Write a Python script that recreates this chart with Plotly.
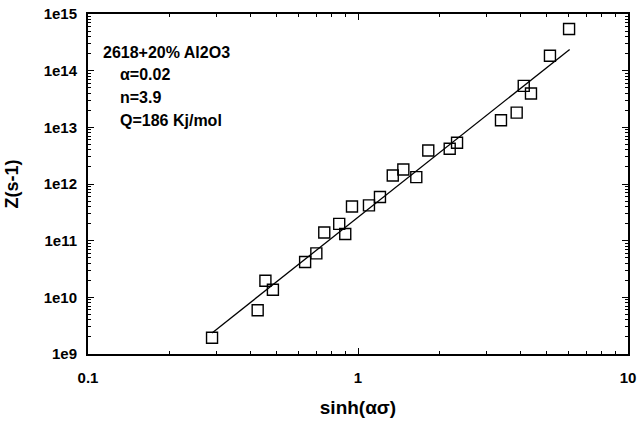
import plotly.graph_objects as go

sinh_x = [0.288, 0.425, 0.454, 0.484, 0.637, 0.701, 0.75, 0.852, 0.897, 0.950,
          1.098, 1.206, 1.345, 1.472, 1.644, 1.821, 2.186, 2.327, 3.385, 3.87,
          4.11, 4.372, 5.14, 6.05]
z_vals = [1.94e9, 5.9e9, 1.96e10, 1.36e10, 4.2e10, 5.96e10, 1.39e11, 1.98e11, 1.31e11, 4.0e11,
          4.2e11, 5.9e11, 1.41e12, 1.8e12, 1.32e12, 3.9e12, 4.2e12, 5.36e12, 1.33e13, 1.82e13,
          5.38e13, 3.95e13, 1.83e14, 5.43e14]
fit_x = [0.288, 6.08]
fit_y = [2.35e9, 2.37e14]

x_tickvals = [0.1, 1, 10]
x_ticktext = ["0.1", "1", "10"]
y_tickvals = [1e9, 1e10, 1e11, 1e12, 1e13, 1e14, 1e15]
y_ticktext = ["1e9", "1e10", "1e11", "1e12", "1e13", "1e14", "1e15"]

notes = ["2618+20% Al2O3", "α=0.02", "n=3.9", "Q=186 Kj/mol"]

FONT = "Arial, Liberation Sans, sans-serif"

x_minor = [m * 10.0 ** e for e in (-1, 0) for m in range(2, 10)]
y_minor = [m * 10.0 ** e for e in range(9, 15) for m in range(2, 10)]

fig = go.Figure()
fig.add_trace(go.Scatter(x=fit_x, y=fit_y, mode="lines",
                         line=dict(color="black", width=1.3), showlegend=False))
fig.add_trace(go.Scatter(x=sinh_x, y=z_vals, mode="markers",
                         marker=dict(symbol="square-open", size=11, color="black",
                                     line=dict(width=1.4, color="black")),
                         showlegend=False))

def axis_common(minor_vals):
    return dict(showline=True, linewidth=2, linecolor="black", mirror="allticks",
                ticks="inside", ticklen=6, tickwidth=1.3, tickcolor="black",
                showgrid=False, zeroline=False, automargin=False,
                tickfont=dict(family=FONT, size=15, color="black", weight="bold"),
                minor=dict(ticks="inside", ticklen=3, tickwidth=1, tickcolor="black",
                           showgrid=False, tickmode="array", tickvals=minor_vals))

fig.update_xaxes(type="log", range=[-1, 1], tickmode="array", tickvals=x_tickvals,
                 ticktext=x_ticktext, ticklabelstandoff=9,
                 title=dict(text="sinh(ασ)", font=dict(family=FONT, size=19, color="black", weight="bold"),
                            standoff=16),
                 **axis_common(x_minor))
fig.update_yaxes(type="log", range=[9, 15], tickmode="array", tickvals=y_tickvals,
                 ticktext=y_ticktext, ticklabelstandoff=6,
                 title=dict(text="Z(s-1)", font=dict(family=FONT, size=18, color="black", weight="bold"),
                            standoff=20),
                 **axis_common(y_minor))

ann_pos = [(101, 52), (118, 74), (118, 97), (118, 120)]
for txt, (px, py) in zip(notes, ann_pos):
    fig.add_annotation(text=txt, xref="paper", yref="paper",
                       x=(px - 88) / 540, y=(354 - py) / 340,
                       xanchor="left", yanchor="middle", showarrow=False,
                       font=dict(family=FONT, size=16, color="black", weight="bold"))

fig.update_layout(width=638, height=423, margin=dict(l=88, r=10, t=14, b=69),
                  paper_bgcolor="white", plot_bgcolor="white",
                  font=dict(family=FONT, color="black"))

fig.write_html("out.html")
